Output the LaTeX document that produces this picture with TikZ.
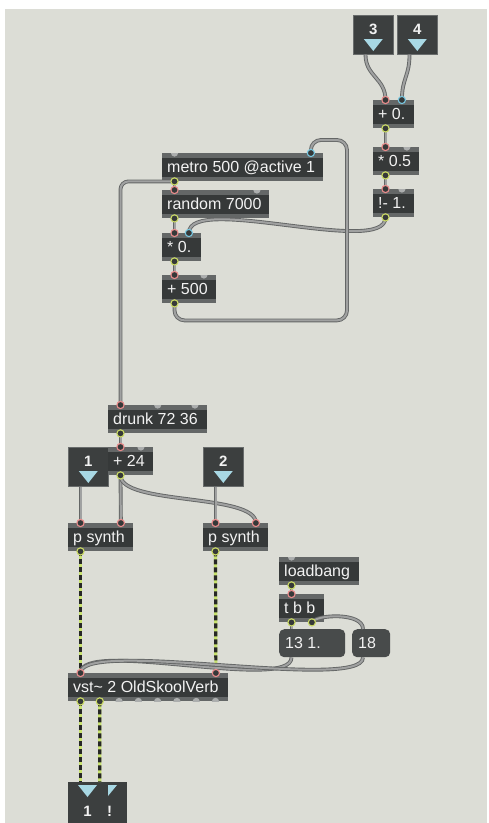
\documentclass[tikz,border=0pt]{standalone}
\usepackage{fontspec}
\setmainfont{Liberation Sans}
\usetikzlibrary{calc}
\definecolor{bg}{RGB}{220,221,214}
\definecolor{objfill}{RGB}{54,57,57}
\definecolor{stripc}{RGB}{100,103,103}
\definecolor{msgfill}{RGB}{72,75,75}
\definecolor{inboxfill}{RGB}{60,63,63}
\definecolor{inboxline}{RGB}{105,108,108}
\definecolor{tric}{RGB}{168,216,228}
\definecolor{hotc}{RGB}{234,140,140}
\definecolor{coldc}{RGB}{120,200,226}
\definecolor{outc}{RGB}{202,218,100}
\definecolor{offc}{RGB}{172,174,174}
\definecolor{cordl}{RGB}{160,161,161}
\definecolor{cordd}{RGB}{100,102,102}
\definecolor{sigy}{RGB}{200,226,110}
\definecolor{txtc}{RGB}{242,242,242}
\tikzset{
  objbox/.style={rectangle, fill=objfill, minimum height=28pt, inner sep=0pt,
    path picture={
      \fill[stripc] (path picture bounding box.north west) rectangle ([yshift=-4.5pt]path picture bounding box.north east);
      \fill[stripc] ([yshift=4.5pt]path picture bounding box.south west) rectangle (path picture bounding box.south east);
    }},
  msgbox/.style={rectangle, rounded corners=5pt, fill=msgfill, minimum height=28pt, inner sep=0pt},
  inbox/.style={rectangle, fill=inboxfill, draw=inboxline, line width=0.6pt, minimum width=40pt, minimum height=39pt, inner sep=0pt},
  objtxt/.style={text=txtc, inner sep=0pt, font=\fontsize{16}{18}\selectfont},
  numtxt/.style={text=txtc, inner sep=0pt, font=\fontsize{15}{17}\selectfont\bfseries},
  tri/.style={fill=tric},
  cord/.style={draw=cordl, line width=2pt, preaction={draw=cordd, line width=3.8pt}},
  sig/.style={draw=sigy, line width=3.2pt, postaction={draw=black!85, line width=3.2pt, dash pattern=on 5pt off 3pt}},
  inhot/.style={draw=hotc, fill=objfill, line width=1.1pt},
  incold/.style={draw=coldc, fill=objfill, line width=1.1pt},
  outm/.style={draw=outc, fill=objfill, line width=1.1pt},
}
\newcommand\mobj[5]{%
  \node[objbox, minimum width=#4pt, anchor=north west] (#1) at (#2,#3) {};
  \node[objtxt, anchor=base west] (#1-t) at ([xshift=5pt,yshift=-5.7pt]#1.west) {#5};
}
\newcommand\mmsg[5]{%
  \node[msgbox, minimum width=#4pt, anchor=north west] (#1) at (#2,#3) {};
  \node[objtxt, anchor=base west] (#1-t) at ([xshift=6pt,yshift=-5.7pt]#1.west) {#5};
}
\newcommand\minbox[4]{%
  \node[inbox, anchor=north west] (#1) at (#2,#3) {};
  \node[numtxt, anchor=base] (#1-t) at ([yshift=-19pt]#1.north) {#4};
  \fill[tri] ($(#1.north)+(-9.5,24)$) -- ++(19,0) -- ++(-9.5,12) -- cycle;
}
\newcommand\offport[2]{%
  \begin{scope}
    \clip (#1.south west) rectangle (#1.north east);
    \fill[offc] (#2) circle (3.6pt);
  \end{scope}
}
\begin{document}
\begin{tikzpicture}[x=1pt,y=-1pt]
\useasboundingbox (0,0) rectangle (488,823);
\fill[white] (0,0) rectangle (488,823);
\fill[bg] (5,9) rectangle (487,823);

% inlet boxes
\minbox{in3}{353}{15}{3}
\minbox{in4}{397}{15}{4}
\minbox{in1}{68}{447}{1}
\minbox{in2}{203}{447}{2}

% objects
\mobj{plus0}{373}{100}{41}{+ 0.}
\mobj{mul05}{373}{147}{46}{* 0.5}
\mobj{minus1}{373}{189}{41}{!- 1.}
\mobj{metro}{162}{153}{161}{metro 500 @active 1}
\mobj{random}{162}{190}{107}{random 7000}
\mobj{mul0}{162}{233}{39}{* 0.}
\mobj{plus500}{162}{275}{54}{+ 500}
\mobj{drunk}{108}{405}{99}{drunk 72 36}
\mobj{plus24}{108}{447}{45}{+ 24}
\mobj{ps1}{68}{523}{65}{p synth}
\mobj{ps2}{203}{523}{65}{p synth}
\mobj{lb}{279}{557}{80}{loadbang}
\mobj{tbb}{279}{594}{45}{t b b}
\mobj{vst}{68}{673}{160}{vst\textasciitilde\ 2 OldSkoolVerb}

% messages
\mmsg{m13}{279}{629}{66}{13 1.}
\mmsg{m18}{352}{629}{38}{18}

% outlet box
\node[rectangle, fill=inboxfill, minimum width=59pt, minimum height=41pt, inner sep=0pt, anchor=north west] (outb) at (68,782) {};
\fill[tri] (78,785) -- (97,785) -- (87.5,797) -- cycle;
\fill[tri] (108,785) -- (117,785) -- (108,796) -- cycle;
\node[numtxt, anchor=base] (outb-t1) at (87.5,816.5) {1};
\node[numtxt, anchor=base] (outb-t2) at (109.5,816.5) {!};

% port coordinates
\coordinate (in3-o) at ([xshift=12.5pt]in3.south west);
\coordinate (in4-o) at ([xshift=12.5pt]in4.south west);
\coordinate (in1-o) at ([xshift=12.5pt]in1.south west);
\coordinate (in2-o) at ([xshift=12.5pt]in2.south west);
\foreach \n in {plus0,mul05,minus1,metro,random,mul0,plus500,drunk,plus24,ps1,ps2,lb,tbb,vst}{
  \coordinate (\n-i1) at ([xshift=12.5pt]\n.north west);
  \coordinate (\n-i2) at ([xshift=-12.5pt]\n.north east);
  \coordinate (\n-o) at ([xshift=12.5pt]\n.south west);
}
\coordinate (drunk-i3) at (drunk.north);
\coordinate (tbb-o2) at ([xshift=-12.5pt]tbb.south east);
\coordinate (m13-i) at ([xshift=12.5pt]m13.north west);
\coordinate (m13-o) at ([xshift=12.5pt]m13.south west);
\coordinate (m18-i) at ([xshift=11pt]m18.north west);
\coordinate (m18-o) at ([xshift=11pt]m18.south west);
\foreach \k in {1,...,7}{
  \coordinate (vst-o\k) at ([xshift={12.5pt+\k*19.2857pt}]vst.south west);
}
\coordinate (out-i1) at ([xshift=12.5pt]outb.north west);
\coordinate (out-i2) at ([xshift=31.8pt]outb.north west);

% signal cords
\draw[sig] (ps1-o) -- (vst-i1);
\draw[sig] (ps2-o) -- (vst-i2);
\draw[sig] (vst-o) -- (out-i1);
\draw[sig] (vst-o1) -- (out-i2);

% control cords
\draw[cord] (in3-o) .. controls +(0,22) and +(0,-22) .. (plus0-i1);
\draw[cord] (in4-o) .. controls +(0,22) and +(0,-22) .. (plus0-i2);
\draw[cord] (plus0-o) -- (mul05-i1);
\draw[cord] (mul05-o) -- (minus1-i1);
\draw[cord] (minus1-o) .. controls +(0,40) and +(0,-40) .. (mul0-i2);
\draw[cord] (metro-o) -- (random-i1);
\draw[cord] (random-o) -- (mul0-i1);
\draw[cord] (mul0-o) -- (plus500-i1);
\draw[cord, rounded corners=10pt] (plus500-o) -- ++(0,17) -| (347,140) -| (metro-i2);
\draw[cord, rounded corners=8pt] (metro-o) -| (drunk-i1);
\draw[cord] (drunk-o) -- (plus24-i1);
\draw[cord] (plus24-o) -- (ps1-i2);
\draw[cord] (plus24-o) .. controls +(0,30) and +(0,-30) .. (ps2-i2);
\draw[cord] (in1-o) -- (ps1-i1);
\draw[cord] (in2-o) -- (ps2-i1);
\draw[cord] (lb-o) -- (tbb-i1);
\draw[cord] (tbb-o) -- (m13-i);
\draw[cord] (tbb-o2) .. controls +(4,-8) and +(0,-17) .. (m18-i);
\draw[cord] (m13-o) .. controls +(0,35) and +(0,-35) .. (vst-i1);
\draw[cord] (m18-o) .. controls +(0,35) and +(0,-35) .. (vst-i1);

% unconnected ports
\offport{metro}{metro-i1}
\offport{random}{random-i2}
\offport{plus500}{plus500-i2}
\offport{mul05}{mul05-i2}
\offport{minus1}{minus1-i2}
\offport{drunk}{drunk-i2}
\offport{drunk}{drunk-i3}
\offport{plus24}{plus24-i2}
\offport{lb}{lb-i1}
\foreach \k in {2,...,7}{ \offport{vst}{vst-o\k} }

% connected ports
\foreach \p in {plus0-i1,mul05-i1,minus1-i1,random-i1,mul0-i1,plus500-i1,drunk-i1,plus24-i1,ps1-i1,ps1-i2,ps2-i1,ps2-i2,tbb-i1,vst-i1,vst-i2}{
  \draw[inhot] (\p) circle (3.6pt);
}
\foreach \p in {plus0-i2,metro-i2,mul0-i2}{
  \draw[incold] (\p) circle (3.6pt);
}
\foreach \p in {plus0-o,mul05-o,minus1-o,metro-o,random-o,mul0-o,plus500-o,drunk-o,plus24-o,ps1-o,ps2-o,lb-o,tbb-o,tbb-o2,vst-o,vst-o1}{
  \draw[outm] (\p) circle (3.6pt);
}
\end{tikzpicture}
\end{document}
